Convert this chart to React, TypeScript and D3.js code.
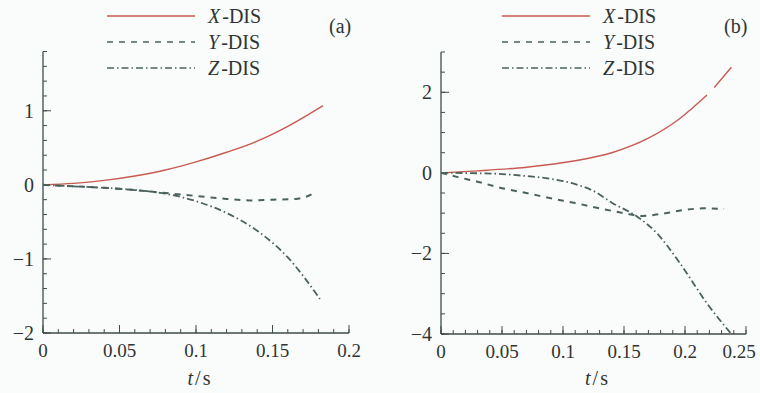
import * as d3 from "d3"

// ---- data ----
const seriesNames = ["X", "Y", "Z"]

// panel (a)
const tA = [0, 0.02, 0.04, 0.06, 0.08, 0.1, 0.12, 0.14, 0.16, 0.183]
const xDisA = [0, 0.02, 0.06, 0.12, 0.2, 0.31, 0.44, 0.59, 0.79, 1.07]
const tYA = [0, 0.02, 0.04, 0.06, 0.08, 0.1, 0.12, 0.135, 0.15, 0.165, 0.172, 0.178]
const yDisA = [0, -0.02, -0.04, -0.07, -0.11, -0.15, -0.19, -0.21, -0.2, -0.19, -0.16, -0.1]
const tZA = [0, 0.02, 0.04, 0.06, 0.08, 0.1, 0.12, 0.14, 0.16, 0.181]
const zDisA = [0, -0.02, -0.04, -0.07, -0.12, -0.22, -0.38, -0.62, -0.98, -1.54]

// panel (b) - X line has a small break near t=0.22
const tXB = [0, 0.03, 0.07, 0.11, 0.14, 0.17, 0.195, 0.218, 0.221, 0.224, 0.238]
const xDisB = [0, 0.05, 0.14, 0.3, 0.5, 0.86, 1.33, 1.93, NaN, 2.12, 2.62]
const tYB = [0, 0.013, 0.03, 0.05, 0.07, 0.09, 0.11, 0.13, 0.15, 0.165, 0.18, 0.2, 0.215, 0.232]
const yDisB = [0, -0.1, -0.22, -0.38, -0.5, -0.63, -0.75, -0.88, -1.0, -1.07, -1.02, -0.92, -0.88, -0.9]
const tZB = [0, 0.03, 0.05, 0.07, 0.09, 0.11, 0.125, 0.14, 0.16, 0.177, 0.196, 0.218, 0.238]
const zDisB = [0, -0.01, -0.03, -0.08, -0.15, -0.28, -0.45, -0.74, -1.07, -1.5, -2.25, -3.24, -4.0]

// ticks
const xTicksA = [0, 0.05, 0.1, 0.15, 0.2]
const xLabelsA = ["0", "0.05", "0.1", "0.15", "0.2"]
const yTicksA = [-2, -1, 0, 1]
const yLabelsA = ["\u22122", "\u22121", "0", "1"]
const xTicksB = [0, 0.05, 0.1, 0.15, 0.2, 0.25]
const xLabelsB = ["0", "0.05", "0.1", "0.15", "0.2", "0.25"]
const yTicksB = [-4, -2, 0, 2]
const yLabelsB = ["\u22124", "\u22122", "0", "2"]

const RED = "#c85a52"
const DARK = "#4a625e"
const AXIS = "#3e4d49"
const TEXT = "#2f3533"
const FONT = "'Liberation Serif', 'Times New Roman', 'DejaVu Serif', 'Noto Serif', Times, serif"

const dashes = ["none", "6,6", "7,3,1.5,3"]
const colors = [RED, DARK, DARK]
const widths = [1.4, 2, 1.8]

type Pt = { t: number; v: number }
const zip = (t: number[], v: number[]): Pt[] => t.map((x, i) => ({ t: x, v: v[i] }))

interface PanelProps {
  left: number
  right: number
  top: number
  bottom: number
  xDomain: [number, number]
  yDomain: [number, number]
  xTicks: number[]
  xLabels: string[]
  yTicks: number[]
  yLabels: string[]
  xMinorStep: number
  yMinorStep: number
  lines: Pt[][]
  legendX: number
  tag: string
  tagX: number
}

function Panel(p: PanelProps) {
  const x = d3.scaleLinear().domain(p.xDomain).range([p.left, p.right])
  const y = d3.scaleLinear().domain(p.yDomain).range([p.bottom, p.top])

  const line = d3.line<Pt>()
    .defined(d => !isNaN(d.v))
    .x(d => x(d.t))
    .y(d => y(d.v))
    .curve(d3.curveMonotoneX)

  const xMinor = d3.range(p.xDomain[0], p.xDomain[1] + 1e-9, p.xMinorStep)
  const yMinor = d3.range(p.yDomain[0], p.yDomain[1] + 1e-9, p.yMinorStep)

  return (
    <g>
      {/* axes */}
      <line x1={p.left} x2={p.left} y1={p.top} y2={p.bottom} stroke={AXIS} strokeWidth={1.3} />
      <line x1={p.left} x2={p.right} y1={p.bottom} y2={p.bottom} stroke={AXIS} strokeWidth={1.3} />
      {xMinor.map((t, i) => (
        <line key={"xm" + i} x1={x(t)} x2={x(t)} y1={p.bottom} y2={p.bottom - 4} stroke={AXIS} strokeWidth={1} />
      ))}
      {p.xTicks.map((t, i) => (
        <g key={"xt" + i}>
          <line x1={x(t)} x2={x(t)} y1={p.bottom} y2={p.bottom - 8} stroke={AXIS} strokeWidth={1} />
          <text x={Math.min(x(t), 739)} y={p.bottom + 24} textAnchor="middle" fontSize={19} fill={TEXT}>{p.xLabels[i]}</text>
        </g>
      ))}
      {yMinor.map((v, i) => (
        <line key={"ym" + i} x1={p.left} x2={p.left + 4} y1={y(v)} y2={y(v)} stroke={AXIS} strokeWidth={1} />
      ))}
      {p.yTicks.map((v, i) => (
        <g key={"yt" + i}>
          <line x1={p.left} x2={p.left + 8} y1={y(v)} y2={y(v)} stroke={AXIS} strokeWidth={1} />
          <text x={p.left - 9} y={y(v) + 7} textAnchor="end" fontSize={20} fill={TEXT}>{p.yLabels[i]}</text>
        </g>
      ))}
      <text x={(p.left + p.right) / 2 + 3} y={385} textAnchor="middle" fontSize={20} fill={TEXT}>
        <tspan fontStyle="italic">t</tspan>
        <tspan dx={2}>/</tspan>
        <tspan dx={2}>s</tspan>
      </text>

      {/* series */}
      {p.lines.map((d, i) => (
        <path key={"l" + i} d={line(d) || ""} fill="none" stroke={colors[i]} strokeWidth={widths[i]}
          strokeDasharray={dashes[i]} />
      ))}

      {/* legend */}
      {seriesNames.map((n, i) => (
        <g key={"lg" + i}>
          <line x1={p.legendX} x2={p.legendX + 88} y1={16 + i * 26} y2={16 + i * 26}
            stroke={colors[i]} strokeWidth={i === 0 ? 1.4 : 1.6} strokeDasharray={dashes[i]} />
          <text x={p.legendX + 101} y={23 + i * 26} fontSize={20} fill={TEXT}>
            <tspan fontStyle="italic">{n}</tspan>
            <tspan dx={2}>-DIS</tspan>
          </text>
        </g>
      ))}
      <text x={p.tagX} y={33} fontSize={20} fill={TEXT}>{p.tag}</text>
    </g>
  )
}

export default function App() {
  return (
    <svg width={760} height={393} style={{ position: "absolute", left: 0, top: 0, fontFamily: FONT }}>
      <rect width={760} height={393} fill="#fafcfb" />
      <Panel
        left={43} right={349} top={51.5} bottom={333}
        xDomain={[0, 0.2]} yDomain={[-2, 1.8]}
        xTicks={xTicksA} xLabels={xLabelsA} yTicks={yTicksA} yLabels={yLabelsA}
        xMinorStep={0.01} yMinorStep={0.2}
        lines={[zip(tA, xDisA), zip(tYA, yDisA), zip(tZA, zDisA)]}
        legendX={107} tag="(a)" tagX={329}
      />
      <Panel
        left={441} right={746} top={52} bottom={334}
        xDomain={[0, 0.25]} yDomain={[-4, 3]}
        xTicks={xTicksB} xLabels={xLabelsB} yTicks={yTicksB} yLabels={yLabelsB}
        xMinorStep={0.01} yMinorStep={0.5}
        lines={[zip(tXB, xDisB), zip(tYB, yDisB), zip(tZB, zDisB)]}
        legendX={502} tag="(b)" tagX={724}
      />
    </svg>
  )
}
